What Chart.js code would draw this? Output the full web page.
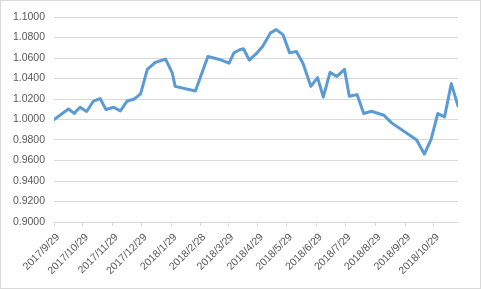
<!DOCTYPE html>
<html>
<head>
<meta charset="utf-8">
<script src="https://cdn.jsdelivr.net/npm/chart.js@4"></script>
<style>
  html, body { margin: 0; padding: 0; background: #fff; }
  #wrap { width: 481px; height: 289px; position: relative; }
</style>
</head>
<body>
<div id="wrap"><canvas id="navChart" width="481" height="289"></canvas></div>
<script>
// days since 2017/9/29
const days = [0, 15, 21, 27, 34, 41, 48, 54, 62, 69, 76, 83, 90, 97, 105, 116, 123, 126,
  147, 160, 174, 182, 187, 193, 197, 203, 210, 217, 225, 231, 238, 245, 252, 259, 267,
  274, 280, 287, 294, 302, 307, 315, 322, 330, 343, 351, 377, 385, 392, 399, 406, 413, 420];
const nav = [1.0000, 1.0103, 1.0060, 1.0120, 1.0078, 1.0180, 1.0204, 1.0097, 1.0120, 1.0084,
  1.0180, 1.0197, 1.0250, 1.0489, 1.0556, 1.0589, 1.0453, 1.0323, 1.0278, 1.0615, 1.0580,
  1.0550, 1.0650, 1.0680, 1.0690, 1.0580, 1.0640, 1.0715, 1.0845, 1.0877, 1.0828, 1.0650,
  1.0663, 1.0544, 1.0323, 1.0408, 1.0220, 1.0460, 1.0420, 1.0489, 1.0226, 1.0243, 1.0058,
  1.0080, 1.0042, 0.9967, 0.9800, 0.9663, 0.9806, 1.0058, 1.0025, 1.0350, 1.0132];

const tickDays = [0, 30, 61, 91, 122, 152, 181, 212, 242, 273, 303, 334, 365, 395];
const tickLabels = ['2017/9/29', '2017/10/29', '2017/11/29', '2017/12/29', '2018/1/29',
  '2018/2/28', '2018/3/29', '2018/4/29', '2018/5/29', '2018/6/29', '2018/7/29',
  '2018/8/29', '2018/9/29', '2018/10/29'];

const frame = {
  id: 'frame',
  afterDraw(chart) {
    const c = chart.ctx;
    c.save();
    c.strokeStyle = '#d9d9d9';
    c.lineWidth = 1;
    c.strokeRect(0.5, 0.5, chart.width - 1, chart.height - 1);
    c.restore();
  }
};

const font = { family: "'Liberation Sans', Arial, sans-serif", size: 10.5 };

new Chart(document.getElementById('navChart').getContext('2d'), {
  type: 'line',
  data: {
    datasets: [{
      data: days.map((d, i) => ({ x: d, y: nav[i] })),
      borderColor: '#5b9bd5',
      borderWidth: 3,
      borderJoinStyle: 'round',
      borderCapStyle: 'round',
      pointRadius: 0,
      tension: 0,
      fill: false
    }]
  },
  options: {
    responsive: false,
    animation: false,
    layout: { padding: { top: 17, right: 23, left: 0, bottom: 0 } },
    plugins: { legend: { display: false }, tooltip: { enabled: false } },
    scales: {
      x: {
        type: 'linear',
        min: 0,
        max: 420,
        afterBuildTicks: (scale) => { scale.ticks = tickDays.map(v => ({ value: v })); },
        afterFit: (scale) => { scale.height = 67; },
        ticks: {
          autoSkip: false,
          minRotation: 45,
          maxRotation: 45,
          padding: 5,
          labelOffset: 4,
          color: '#595959',
          font: font,
          callback: (v, i) => tickLabels[i]
        },
        grid: { drawOnChartArea: false, drawTicks: true, tickLength: 4, color: '#d9d9d9' },
        border: { display: true, color: '#d9d9d9' }
      },
      y: {
        min: 0.9,
        max: 1.1,
        afterFit: (scale) => { scale.width = 54; },
        ticks: {
          stepSize: 0.02,
          padding: 9,
          color: '#595959',
          font: font,
          callback: (v) => v.toFixed(4)
        },
        grid: { color: '#d9d9d9', drawTicks: false },
        border: { display: false }
      }
    }
  },
  plugins: [frame]
});
</script>
</body>
</html>
